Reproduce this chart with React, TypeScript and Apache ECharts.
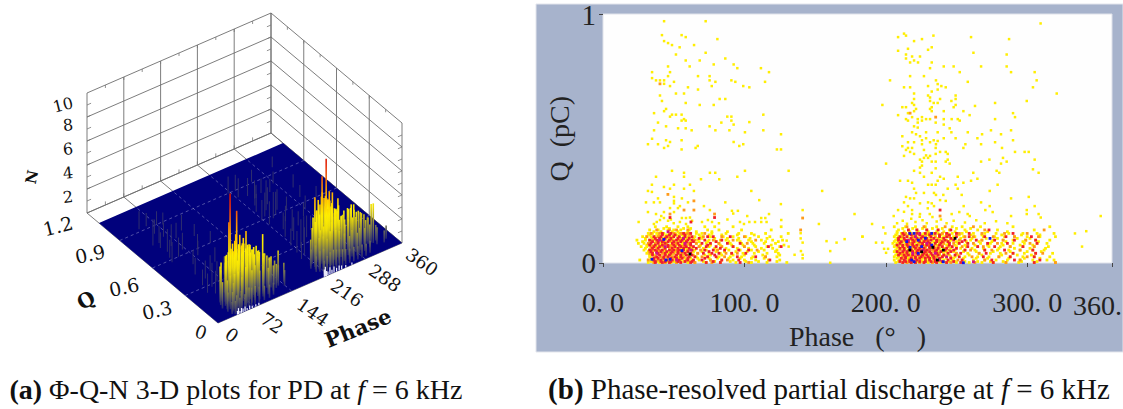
import React, { useEffect, useRef } from "react";
import * as echarts from "echarts";

// ---------- left panel: axis ticks ----------
const phaseTicks3D = [0, 72, 144, 216, 288, 360];
const qTicks3D = [0, 0.3, 0.6, 0.9, 1.2];
const nTicks3D = [0, 2, 4, 6, 8, 10];
const floorQMax = 1.09;

// ---------- left panel: spikes [phase, Q, N] ----------
const spikesFirstHump: number[][] = [
  [28,.09,2.2],[30,.05,1.6],[31,.12,2.9],[33,.07,2.4],[34,.14,3.0],[35,.03,1.7],[36,.1,3.6],[37,.06,2.8],[38,.15,3.2],[39,.04,2.3],
  [40,.11,4.1],[41,.08,3.4],[42,.13,3.8],[43,.05,2.9],[44,.09,4.4],[45,.1,9.2],[46,.07,4.6],[47,.12,6.6],[48,.04,3.1],[49,.1,4.5],
  [50,.14,3.9],[51,.06,3.8],[52,.09,5.2],[53,.03,2.6],[54,.12,4.7],[55,.07,4.3],[56,.1,5.6],[57,.15,4.0],[58,.05,3.6],[59,.09,4.4],
  [60,.11,7.4],[61,.07,4.8],[62,.13,4.6],[63,.04,3.2],[64,.1,5.4],[66,.08,4.5],[67,.12,4.1],[68,.05,3.3],[69,.1,4.6],[70,.14,4.2],
  [72,.07,4.2],[73,.11,4.9],[74,.09,5.6],[75,.04,2.7],[76,.12,4.3],[78,.07,3.9],[79,.1,4.3],[80,.09,4.4],[82,.13,3.7],[83,.05,2.9],
  [84,.1,4.2],[86,.07,3.6],[87,.12,3.8],[89,.09,4.0],[90,.04,2.4],[91,.11,3.6],[93,.07,3.3],[94,.13,3.4],[96,.1,3.9],[98,.08,3.5],
  [99,.05,2.5],[101,.11,3.3],[103,.07,3.0],[105,.12,3.2],[107,.09,3.1],[109,.05,2.2],[111,.1,3.0],[113,.12,4.4],[115,.07,2.8],[117,.1,2.7],
  [119,.13,2.6],[121,.06,2.1],[123,.09,2.6],[126,.11,2.3],[129,.07,2.0],[132,.1,2.0],[135,.08,1.7],[139,.1,2.7],[143,.06,1.3],[148,.09,1.6],
  [32,.02,1.0],[36,.01,1.1],[41,.02,1.4],[45,.01,1.2],[50,.02,1.6],[55,.01,1.3],[60,.02,1.7],[65,.02,1.6],[70,.02,1.5],[77,.02,1.5],[85,.02,1.3],[95,.02,1.2],[105,.02,1.1],[115,.03,1.0],
];
const spikesSecondHump: number[][] = [
  [203,.1,1.6],[205,.06,1.3],[207,.12,2.2],[208,.08,2.0],[210,.05,1.7],[211,.1,5.8],[212,.13,3.0],[213,.07,2.6],[214,.1,4.6],[215,.04,1.9],
  [216,.12,3.5],[217,.08,3.1],[218,.15,3.6],[219,.06,2.7],[220,.1,4.2],[221,.13,4.3],[222,.07,3.4],[223,.11,4.9],[224,.05,2.5],[225,.1,7.3],
  [226,.14,5.0],[227,.07,3.9],[228,.12,5.4],[229,.09,4.8],[230,.05,3.0],[231,.11,5.3],[232,.08,4.6],[233,.1,8.6],[234,.14,5.5],[235,.06,3.6],
  [236,.11,5.2],[237,.09,5.9],[238,.13,5.2],[239,.07,4.2],[240,.1,5.0],[241,.05,2.9],[242,.12,4.9],[243,.09,5.7],[244,.14,4.7],[245,.07,3.8],
  [246,.11,4.6],[247,.09,4.3],[248,.05,2.7],[249,.12,4.2],[250,.09,4.2],[251,.14,4.0],[252,.07,3.4],[254,.11,3.9],[255,.09,4.4],[256,.1,4.9],
  [258,.05,2.3],[259,.12,3.6],[260,.09,3.4],[262,.13,3.4],[263,.07,2.8],[265,.11,3.2],[267,.09,3.0],[268,.05,1.9],[270,.12,3.1],[272,.08,3.0],
  [274,.13,3.3],[275,.06,2.2],[277,.1,3.6],[279,.12,3.5],[280,.08,3.0],[282,.1,3.9],[283,.05,1.9],[285,.12,3.4],[287,.08,2.9],[289,.11,3.7],
  [290,.06,2.1],[292,.1,3.1],[294,.13,3.0],[296,.08,2.6],[298,.11,3.0],[300,.06,1.9],[302,.1,2.8],[304,.12,2.7],[306,.08,2.3],[309,.11,2.5],
  [312,.07,1.9],[315,.1,2.2],[318,.12,2.0],[321,.1,3.2],[323,.09,3.3],[326,.07,1.4],[330,.1,1.3],[338,.06,1.0],[346,.08,1.1],
  [212,.02,1.1],[218,.02,1.4],[224,.02,1.6],[230,.02,1.7],[236,.02,1.6],[242,.02,1.5],[248,.02,1.4],[254,.02,1.3],[262,.02,1.2],[270,.02,1.2],[278,.02,1.1],[286,.02,1.1],[294,.02,1.0],[304,.03,1.0],
];
const spikesBackground: number[][] = [
  [33,.25,1.6],[38,.32,1.3],[42,.22,1.9],[45,.42,1.4],[48,.28,2.0],[52,.36,1.5],[55,.2,2.2],[58,.5,1.2],[62,.3,1.7],[66,.23,2.4],
  [70,.4,1.3],[74,.26,1.8],[78,.55,1.2],[82,.33,1.5],[86,.2,2.1],[90,.45,1.2],[95,.29,1.4],[102,.22,1.9],[108,.37,1.1],[115,.2,1.7],
  [34,.58,1.7],[38,.62,1.5],[41,.72,1.3],[44,.67,1.9],[47,.76,1.4],[51,.6,1.6],[55,.84,1.2],[58,.7,1.8],[62,.79,1.2],[67,.64,1.4],
  [72,.9,1.1],[76,.74,1.3],[80,.88,1.0],[88,.6,1.2],[95,.78,1.3],[103,.7,1.0],[113,.6,1.0],[42,.92,1.5],[56,.92,1.1],[35,.76,2.2],
  [206,.2,1.4],[210,.26,1.8],[213,.33,1.4],[216,.22,2.3],[219,.41,1.7],[222,.28,2.4],[225,.36,1.9],[228,.47,1.4],[231,.21,2.6],[234,.31,2.2],
  [237,.43,1.8],[240,.25,2.4],[243,.52,1.3],[246,.34,1.8],[249,.22,2.2],[253,.45,1.2],[257,.29,1.6],[262,.38,1.2],[268,.22,1.5],[274,.5,1.1],
  [214,.6,1.7],[218,.55,1.9],[220,.68,1.5],[224,.62,2.0],[228,.73,1.6],[232,.58,2.2],[235,.66,2.5],[238,.78,1.5],[241,.6,1.9],[246,.7,1.4],
  [250,.63,1.7],[255,.8,1.2],[262,.6,1.1],[268,.78,1.1],[212,.9,1.4],[219,.84,1.6],[226,.9,1.3],[233,.82,1.5],[241,.78,1.1],[260,.91,1.0],
  [285,.83,1.0],[288,.55,1.1],[299,.65,1.0],[305,.74,1.1],[309,.95,.9],[290,.3,1.2],[300,.22,1.6],[306,.35,1.0],[312,.24,1.2],[320,.6,.9],
];
const whiteFrontNotches: number[][] = [
  [38,0,.3],[40,0,.5],[43,0,.2],[46,0,.4],[49,0,.3],[53,0,.4],[57,0,.2],[62,0,.3],[67,0,.2],[74,0,.2],[80,0,.2],
  [208,0,.6],[210,0,.8],[212,0,.4],[215,0,.3],[219,0,.6],[223,0,.3],[227,0,.5],[232,0,.3],[237,0,.4],[242,0,.3],[250,0,.2],[262,0,.2],
];

// ---------- right panel: scattered cells [phase, Q] ----------
const yellowUpper: number[][] = [
  [43.2,.973],[72.6,.973],[41.7,.917],[55.6,.917],[58.5,.909],[80.9,.901],[43.2,.893],[46,.885],[48.8,.877],[64.4,.877],[54.2,.868],[72.6,.846],[51.6,.839],[86.5,.823],[58.5,.815],[68.4,.815],[78.3,.799],[92.4,.799],[61.3,.791],[46,.791],[95,.784],[111.7,.784],[34.7,.768],[47.4,.768],[117.4,.768],[46,.752],[67.2,.752],[75.4,.752],[34.7,.744],[37.5,.735],[40.3,.735],[43.2,.735],[75.4,.735],[50.2,.729],[79.5,.729],[90.8,.735],[93.6,.729],[114.6,.729],[43.2,.721],[47.4,.712],[76.9,.712],[99.2,.712],[103.5,.707],[60.1,.707],[67.2,.698],[51.6,.682],[57.3,.682],[40.3,.674],[82.5,.66],[86.5,.66],[41.7,.652],[58.5,.644],[68.4,.636],[78.3,.636],[44.6,.62],[43.2,.611],[36.1,.603],[48.8,.597],[51.6,.597],[55.6,.597],[47.4,.589],[113.4,.597],[87.9,.589],[90.8,.589],[57.3,.579],[55.6,.573],[58.5,.573],[90.8,.573],[103.5,.567],[83.7,.565],[38.9,.565],[92.4,.557],[44.6,.55],[53.1,.542],[58.5,.542],[75.4,.55],[62.7,.534],[36.1,.534],[79.5,.534],[89.4,.534],[113.4,.534],[100.4,.526],[125.9,.518],[34.7,.5],[44.6,.494],[55.6,.494],[47.4,.487],[31.8,.478],[38.9,.478],[92.4,.487],[99.2,.478],[96.4,.471],[43.2,.463],[46,.471],[67,.471],[65.5,.463],[55.6,.457],[123,.457],[125.9,.457],
  [309.5,.964],[212.9,.923],[214.3,.915],[208.7,.909],[233.7,.915],[260.3,.909],[225.6,.901],[287.2,.901],[220,.893],[208.7,.854],[215.7,.862],[229.9,.858],[232.5,.868],[262,.846],[285.5,.839],[214.3,.839],[218.6,.831],[224.2,.831],[214.3,.823],[220,.815],[217.2,.807],[222.8,.807],[232.5,.807],[241,.791],[248,.791],[267.4,.791],[285.5,.791],[231.3,.784],[252.3,.768],[288.6,.768],[305.3,.768],[217.2,.752],[227,.752],[203,.735],[235.5,.735],[258,.729],[306.7,.735],[236.7,.72],[212.9,.707],[217.2,.707],[229.9,.712],[239.3,.712],[242.4,.707],[304.1,.707],[236.7,.698],[220,.682],[232.5,.69],[320.9,.682],[229.9,.674],[249.4,.674],[231.3,.666],[220,.66],[238.4,.66],[249.4,.66],[246.4,.652],[299.7,.652],[231.3,.652],[218.6,.644],[233.9,.644],[236.7,.644],[277.3,.644],[197.6,.636],[220,.636],[249.4,.636],[263.1,.632],[211.7,.627],[214.3,.627],[248,.627],[232.5,.627],[221.4,.62],[231.3,.62],[220,.611],[232.5,.611],[241,.611],[254.9,.611],[215.7,.603],[208.7,.595],[259.3,.595],[290,.603],[291.4,.587],[218.6,.587],[225.6,.587],[214.3,.579],[222.6,.579],[228.5,.579],[231.3,.579],[241,.579],[246.6,.579],[250.9,.579],[277.3,.579],[252.3,.573],[215.7,.573],[225.6,.573],[222.6,.565],[235.3,.565],[241,.557],[220,.55],[222.6,.545],[245.2,.542],[274.4,.534],[288.6,.534],[218.6,.526],[228.5,.526],[236.7,.526],[246.4,.526],[258,.526],[221.4,.518],[268.1,.518],[281.5,.518],[211.7,.51],[224.2,.51],[228.5,.502],[241,.502],[249.4,.502],[264.8,.502],[225.6,.494],[233.9,.494],[236.7,.491],[290,.494],[215.7,.486],[220,.486],[231.3,.486],[277.3,.486],[225.6,.478],[235.5,.478],[256.3,.478],[267.4,.478],[211.7,.47],[215.7,.463],[218.6,.463],[235.3,.463],[254.9,.463],[282.2,.463],[214.3,.455],[227,.455],[217.2,.447],[220,.439],[238.4,.447],[242.4,.447],[243.8,.439],[235.3,.439],[291.4,.447],[298.2,.447],[301.1,.447],[212.9,.431],[228.5,.433],[231.3,.431],[227,.423],[229.9,.423],[282.9,.423],[224.2,.416],[243.8,.416],[273.3,.416],[305.3,.416],[225.6,.408],[232.5,.408],[235.3,.408],[242.4,.408],[267.4,.408],[285.5,.408],[200.2,.4],[245.2,.4],[281.5,.4],[225.6,.392],[224.2,.384],[235.3,.381],[304.1,.377],
];
const yellowMiddle: number[][] = [
  [37.5,.347],[48.8,.371],[57.3,.363],[57.3,.347],[69.3,.337],[75.6,.363],[79.4,.363],[82.2,.337],[95,.347],[100.4,.371],[131.3,.371],[34.6,.315],[61.5,.315],[43.1,.306],[47.4,.299],[50.2,.315],[57.3,.299],[31.8,.29],[34.6,.286],[64.3,.29],[104.9,.29],[155,.29],[50.2,.266],[38.9,.26],[55.8,.26],[50.2,.25],[30.4,.244],[36,.244],[40.3,.244],[50.2,.24],[60.1,.244],[86.5,.244],[110.5,.253],[125.8,.237],[71.4,.229],[54.4,.229],[47.4,.221],[53,.221],[75.6,.213],[91.2,.21],[95.4,.21],[141.2,.213],[31.8,.205],[37.5,.197],[43.1,.205],[50.2,.205],[117.4,.197],[177.9,.197],[92.1,.199],[102,.189],[41.2,.189],[55.8,.181],[58.7,.181],[61.5,.183],[111.9,.181],[114.8,.181],[25.2,.165],[36,.157],[40.3,.173],[43.1,.181],[54.4,.165],[58.7,.157],[70,.165],[74.2,.173],[77.1,.165],[96.9,.165],[99.7,.157],[103.5,.165],[107.5,.165],[111.9,.165],[115.7,.165],[126.1,.173],[152.7,.157],
  [158.1,.088],[165.2,.082],[170.9,.096],[183.6,.106],[160.7,.048],[160.7,.001],[135.5,.033],[141.2,.033],[139.8,.12],[139.8,.099],[141.2,.082],[140,.048],[141.2,.019],[129.9,.09],[131.3,.066],[183.4,.106],[193.1,.082],[197.6,.082],[198.8,.057],[201.6,.057],[200.2,.041],[198.3,.143],[199.7,.119],[190.3,.157],[333.8,.119],[341.8,.128],[338.8,.066],
  [220,.371],[224.2,.363],[232.5,.363],[227,.347],[238.4,.347],[250.9,.347],[261.9,.363],[264.8,.339],[278.4,.371],[280.3,.363],[308.1,.363],[210.1,.331],[215.7,.331],[218.6,.323],[229.9,.315],[232.5,.315],[236.7,.331],[235.3,.315],[241,.339],[254.9,.323],[260.3,.331],[249.4,.315],[279.1,.315],[220,.299],[243.8,.299],[250.9,.299],[273.5,.29],[221.4,.282],[227,.282],[234.1,.282],[235.5,.274],[253.7,.274],[214.3,.266],[240.7,.274],[220,.26],[217.2,.26],[301.1,.266],[288.6,.26],[212.9,.244],[238.4,.253],[224.2,.24],[229.9,.244],[232.5,.24],[242.4,.25],[215.7,.229],[234.1,.229],[255.1,.229],[267.4,.244],[273.5,.229],[305.3,.229],[208.7,.213],[218.6,.213],[229.7,.22],[270.4,.213],[299.7,.213],[212.9,.206],[275.6,.205],[205.6,.189],[218.6,.197],[224.2,.197],[231.1,.197],[246.6,.197],[252,.205],[257.9,.197],[259.4,.189],[288.6,.189],[299.7,.197],[308.1,.197],[352,.189],[309.6,.183],
  [46,.17],[50,.16],[38,.165],[63,.17],[48,.175],[82,.16],[88,.175],[212,.17],[218,.178],[221,.165],[226,.172],[229,.16],[233,.185],[236,.167],[239,.175],[243,.16],[248,.17],[256,.163],[264,.172],[270,.16],[278,.168],[286,.16],[208,.16],[215,.158],[224,.186],
];
// dense rows: [Q, phases]
const yellowDenseRows: [number, number[]][] = [
  [.146,[37,45,53,60,72,79,92,126, 206,214,221,228,236,247,254,267,290,316]],
  [.139,[43,47,57,62, 212,219,226,233,240,250,260]],
  [.133,[33,39,46,50,55,61,74,82,98,119, 209,216,222,229,237,245,256,265,279,305]],
  [.126,[36,41,49,53,60,66,77,88, 208,213,217,223,230,236,241,249,257,272,286]],
  [.119,[32,35,38,43,47,51,54,56,59,62,66,70,77,87,96,105,115,131, 208,211,214,218,221,224,227,230,234,237,240,244,247,250,254,262,270,278,287,297,307,319]],
  [.113,[33,39,45,52,56,61,68,75,84,95,107, 207,212,216,220,226,229,233,239,243,252,260,268,282,296,309]],
  [.106,[28,31,34,37,40,44,48,50,53,57,60,65,69,76,85,92,101,110,118,126, 206,209,212,215,219,222,225,228,231,235,238,241,245,248,255,263,269,277,284,291,300,309,320]],
  [.099,[30,35,42,46,49,55,59,64,70,79,88,96,104,116, 208,211,217,220,223,227,232,237,240,247,253,261,271,279,293,302]],
  [.092,[24,30,33,36,40,43,47,51,55,58,63,67,75,83,87,95,103,112,120,127, 207,210,213,216,218,221,224,227,230,233,236,239,243,246,252,260,268,276,283,290,299,306,316]],
  [.086,[28,34,38,44,48,53,57,62,68,74,80,89,97,105,115,124, 206,209,212,215,219,222,226,229,234,238,241,245,250,257,266,275,285,297,308]],
  [.079,[25,29,33,37,41,45,49,52,56,60,66,73,82,90,98,106,114,122, 205,208,211,214,217,220,223,226,229,232,235,238,241,244,251,258,267,274,282,290,298,307,314]],
  [.072,[31,36,40,44,48,52,56,61,69,76,83,91,99,107,119,128, 207,210,213,217,221,224,227,230,233,236,243,249,256,263,272,283,295,304]],
  [.066,[27,31,35,38,42,46,50,54,58,62,68,75,84,92,100,108,116,125, 206,209,212,215,219,222,225,228,231,234,237,240,244,250,257,265,273,281,288,297,305,315]],
  [.059,[30,34,38,43,47,51,55,59,63,71,79,87,95,103,112,120, 208,211,214,219,222,225,228,232,235,238,241,246,253,261,269,280,291,302,313]],
  [.052,[29,33,36,40,44,48,52,56,60,65,73,81,89,97,105,114,123, 207,210,213,216,218,221,224,227,230,233,236,239,242,249,256,263,270,279,287,295,304,312]],
  [.046,[32,35,39,43,47,51,55,59,64,70,80,86,94,102,110,122, 206,209,213,217,220,223,226,229,234,237,240,243,248,255,264,276,288,300,310]],
  [.039,[31,34,38,42,46,50,54,58,62,67,75,83,91,99,107,116,124, 208,211,214,217,220,223,226,229,232,235,238,241,244,250,258,266,274,281,290,298,306,318]],
  [.032,[33,36,40,44,48,52,56,60,64,72,76,84,92,100,113,125, 207,211,214,217,220,225,228,231,235,238,242,245,251,259,268,282,293,303]],
  [.025,[33,37,41,45,49,53,57,61,66,74,82,90,98,106,115,123, 206,209,212,215,218,221,224,227,230,233,236,240,243,249,256,265,273,280,288,297,305,316]],
  [.019,[34,38,42,46,50,54,58,62,67,75,81,89,97,105,114, 208,212,216,219,223,226,229,232,235,239,243,248,255,264,272,287,298,309]],
  [.012,[26,32,35,39,43,47,51,55,59,63,68,76,84,92,100,108,117,125, 206,210,213,216,219,222,225,228,231,234,238,241,247,254,262,270,278,286,295,304,314,319]],
  [.006,[34,38,42,46,50,54,57,61,71,79,90,101,110,123, 209,213,216,220,223,226,229,234,238,241,245,249,256,265,274,283,296,307]],
  [.002,[32,36,40,44,48,52,60,65,73,83,94,105,116,130, 207,212,215,218,221,224,227,230,233,236,239,243,250,259,268,276,285,294,305,320]],
];
const orangeCells: number[][] = [
  [40.3,.721],[217.2,.603],[235.3,.587],[45.9,.276],[64.3,.25],[57.3,.213],[64.3,.213],[47.4,.197],[78.9,.197],[141.2,.181],[139.8,.133],[238.4,.189],
  [38,.133],[47,.133],[52,.133],[60,.133],[215,.146],[227,.146],[242,.146],[262,.146],[270,.133],[312,.133],
  [34,.119],[40,.119],[50,.119],[55,.119],[60,.119],[72,.119],[214,.119],[224,.119],[231,.119],[240,.119],[252,.119],[268,.119],[284,.119],[300,.119],
  [31,.106],[39,.106],[47,.106],[61,.106],[71,.106],[84,.106],[100,.106],[212,.106],[219,.106],[228,.106],[235,.106],[245,.106],[256,.106],[262,.106],[276,.106],[291,.106],[308,.106],
  [35,.092],[41,.092],[49,.092],[54,.092],[65,.092],[78,.092],[92,.092],[108,.092],[213,.092],[221,.092],[230,.092],[238,.092],[252,.092],[268,.092],[283,.092],[299,.092],
  [32,.079],[37,.079],[42,.079],[51,.079],[60,.079],[66,.079],[82,.079],[102,.079],[217,.079],[224,.079],[229,.079],[241,.079],[248,.079],[262,.079],[279,.079],[302,.079],
  [34,.066],[43,.066],[48,.066],[57,.066],[68,.066],[84,.066],[100,.066],[209,.066],[222,.066],[228,.066],[237,.066],[244,.066],[254,.066],[269,.066],[288,.066],[305,.066],
  [35,.052],[40,.052],[52,.052],[60,.052],[69,.052],[81,.052],[109,.052],[210,.052],[216,.052],[227,.052],[233,.052],[245,.052],[260,.052],[275,.052],[295,.052],
  [33,.039],[42,.039],[50,.039],[56,.039],[67,.039],[87,.039],[95,.039],[212,.039],[220,.039],[229,.039],[238,.039],[250,.039],[266,.039],[285,.039],[311,.039],
  [37,.025],[41,.025],[49,.025],[57,.025],[70,.025],[86,.025],[115,.025],[212,.025],[218,.025],[227,.025],[236,.025],[246,.025],[261,.025],[280,.025],[300,.025],
  [32,.012],[39,.012],[47,.012],[59,.012],[76,.012],[88,.012],[210,.012],[219,.012],[228,.012],[238,.012],[251,.012],[270,.012],[295,.012],
  [36,.002],[44,.002],[52,.002],[65,.002],[77,.002],[103,.002],[215,.002],[224,.002],[233,.002],[246,.002],[263,.002],[285,.002],[320,.002],
];
const redCells: number[][] = [
  [47.4,.183],[78.9,.183],[62.2,.165],[238.4,.213],[42,.119],[48,.119],[57,.119],[62,.119],
  [36,.106],[41,.106],[45,.106],[50,.106],[54,.106],[58,.106],[63,.106],[74,.106],[78,.106],[90,.106],
  [33,.092],[38,.092],[43,.092],[47,.092],[52,.092],[56,.092],[60,.092],[63,.092],[72,.092],[84,.092],
  [34,.079],[39,.079],[44,.079],[49,.079],[53,.079],[58,.079],[62,.079],[70,.079],[76,.079],[88,.079],[97,.079],
  [36,.066],[40,.066],[46,.066],[51,.066],[55,.066],[59,.066],[64,.066],[73,.066],[80,.066],[92,.066],[117,.066],[126,.066],
  [33,.052],[37,.052],[42,.052],[47,.052],[50,.052],[54,.052],[57,.052],[63,.052],[72,.052],[78,.052],[86,.052],[96,.052],[103,.052],
  [35,.039],[39,.039],[44,.039],[48,.039],[53,.039],[58,.039],[62,.039],[71,.039],[77,.039],[82,.039],[91,.039],[101,.039],
  [38,.025],[43,.025],[46,.025],[51,.025],[55,.025],[61,.025],[65,.025],[74,.025],[80,.025],[95,.025],[108,.025],
  [36,.012],[41,.012],[45,.012],[49,.012],[54,.012],[60,.012],[64,.012],[70,.012],[84,.012],[96,.012],[118,.012],
  [37,.002],[42,.002],[47,.002],[55,.002],[62,.002],[73,.002],[83,.002],[97,.002],
  [216,.133],[222,.133],[229,.133],[237,.133],[246,.133],[273,.133],
  [212,.119],[217,.119],[222,.119],[228,.119],[235,.119],[243,.119],[250,.119],[259,.119],[290,.119],
  [210,.106],[215,.106],[221,.106],[226,.106],[232,.106],[238,.106],[243,.106],[250,.106],[259,.106],[270,.106],[285,.106],[303,.106],
  [209,.092],[214,.092],[219,.092],[223,.092],[228,.092],[232,.092],[236,.092],[242,.092],[248,.092],[256,.092],[264,.092],[277,.092],[291,.092],[306,.092],
  [210,.079],[215,.079],[219,.079],[226,.079],[231,.079],[235,.079],[239,.079],[245,.079],[252,.079],[258,.079],[272,.079],[286,.079],[307,.079],
  [212,.066],[216,.066],[220,.066],[225,.066],[231,.066],[234,.066],[240,.066],[247,.066],[258,.066],[265,.066],[277,.066],[297,.066],
  [213,.052],[218,.052],[223,.052],[229,.052],[236,.052],[242,.052],[248,.052],[256,.052],[270,.052],[284,.052],[304,.052],
  [210,.039],[215,.039],[222,.039],[227,.039],[232,.039],[236,.039],[244,.039],[253,.039],[271,.039],[290,.039],[306,.039],
  [214,.025],[221,.025],[225,.025],[230,.025],[234,.025],[240,.025],[252,.025],[269,.025],[288,.025],[305,.025],
  [213,.012],[217,.012],[222,.012],[231,.012],[235,.012],[244,.012],[254,.012],[275,.012],[291,.012],[309,.012],
  [212,.002],[218,.002],[221,.002],[227,.002],[236,.002],[243,.002],[253,.002],[276,.002],[305,.002],
];
// further red cells between the rows above, inside the two dense cores
const redCoreRows: [number, number[]][] = [
  [.113,[42,47,51,58, 213,218,224,231,238,245]],
  [.099,[37,40,44,48,53,57,61,68, 209,213,218,222,225,229,234,241,246]],
  [.086,[35,39,42,46,50,55,59,64,80, 211,216,220,224,227,230,236,240,244,254]],
  [.072,[33,37,42,46,50,54,58,62,74, 208,212,215,219,222,226,229,232,238,245]],
  [.059,[35,39,44,49,53,57,61,66,83, 210,213,217,221,224,227,231,234,237,243,250]],
  [.046,[34,38,41,45,49,53,56,60,75, 208,212,215,219,222,225,228,231,235,239,246]],
  [.032,[35,40,44,47,52,55,59,63,79, 209,213,216,219,223,226,229,233,237,241,249]],
  [.019,[36,39,43,48,52,56,60,72, 211,214,218,221,224,228,231,234,238,246]],
  [.006,[37,41,44,48,53,58,63,78, 210,214,217,220,224,228,232,235,240,248]],
];
const magentaCells: number[][] = [
  [46,.126],[56.8,.099],[44,.066],[58,.079],[38,.039],[52,.012],[62,.052],[40,.092],[221,.106],[229,.079],[216,.092],[235,.039],[226,.052],[243,.025],[219,.039],[224,.119],[238,.012],[262,.005],
];
const blueCells: number[][] = [
  [43,.095],[55.8,.05],[34.6,.015],[44.5,.012],[47.4,.015],[217,.119],[220,.119],[232.5,.119],[214.8,.086],[223,.092],[217.2,.063],[225.4,.066],[232.5,.072],[218.3,.012],[223,.039],[240.7,.005],[254.9,.001],[220,.005],[273.7,.099],[228,.1],
];
const blackCells: number[][] = [
  [61.5,.036],[217,.052],[233.2,.063],[240.7,.052],[236.5,.012],[249,.099],[225.4,.045],
];

// ---------- right panel: axis values ----------
const rightXMax = 360;
const rightXStep = 100;

// ---------- projection of the 3-D box ----------
const O = [218, 323];
const PX = [184, -80];
const QY = [-131, -110];
const NH = 12;
function project(p: number, q: number, n: number): [number, number] {
  const a = p / 360;
  const b = q / 1.2;
  return [O[0] + PX[0] * a + QY[0] * b, O[1] + PX[1] * a + QY[1] * b - n * NH];
}

// N -> colour
const colorMapStops: [number, number[]][] = [
  [0, [40, 40, 112]],
  [1, [104, 104, 90]],
  [2, [172, 162, 40]],
  [3, [238, 222, 8]],
  [4, [255, 238, 0]],
  [6, [255, 160, 0]],
  [8, [232, 48, 16]],
  [10, [190, 0, 0]],
];
function colorAt(n: number): string {
  const s = colorMapStops;
  for (let i = 1; i < s.length; i++) {
    if (n <= s[i][0]) {
      const t = (n - s[i - 1][0]) / (s[i][0] - s[i - 1][0]);
      const c = s[i - 1][1].map((v, k) => Math.round(v + (s[i][1][k] - v) * t));
      return `rgb(${c[0]},${c[1]},${c[2]})`;
    }
  }
  return "rgb(190,0,0)";
}
function spikeFill(n: number) {
  const stops: { offset: number; color: string }[] = [{ offset: 0, color: colorAt(n) }];
  colorMapStops.forEach(([v]) => {
    if (v < n) stops.push({ offset: 1 - v / n, color: colorAt(v) });
  });
  stops.sort((a, b) => a.offset - b.offset);
  return new echarts.graphic.LinearGradient(0, 0, 0, 1, stops);
}

type Seg = number[];
function frameSegments(): { walls: Seg[]; ticks: Seg[]; dashes: Seg[] } {
  const walls: Seg[] = [];
  const ticks: Seg[] = [];
  const dashes: Seg[] = [];
  const top = 10;
  nTicks3D.forEach((n) => {
    walls.push([0, 1.2, n, 360, 1.2, n]);
    walls.push([360, 1.2, n, 360, 0, n]);
  });
  phaseTicks3D.forEach((p) => {
    walls.push([p, 1.2, 0, p, 1.2, top]);
    walls.push([p, 0, 0, p, 1.2, 0]);
  });
  qTicks3D.forEach((q) => {
    walls.push([360, q, 0, 360, q, top]);
    walls.push([0, q, 0, 360, q, 0]);
  });
  [36, 72, 108, 144, 180, 216, 252, 288, 324].forEach((p) => {
    ticks.push([p, 1.2, 10, p, 1.2, 9.75]);
    ticks.push([p, 1.2, 0, p, 1.2, 0.3]);
  });
  [0.15, 0.3, 0.45, 0.6, 0.75, 0.9, 1.05].forEach((q) => {
    ticks.push([360, q, 10, 360, q, 9.75]);
  });
  [1, 2, 3, 4, 5, 6, 7, 8, 9].forEach((n) => {
    ticks.push([0, 1.2, n, 8, 1.2, n]);
    ticks.push([360, 1.2, n, 352, 1.2, n]);
    ticks.push([360, 0, n, 352, 0, n]);
  });
  [72, 144, 216, 288].forEach((p) => dashes.push([p, 0, 0, p, floorQMax, 0]));
  [0.3, 0.6, 0.9].forEach((q) => dashes.push([0, q, 0, 360, q, 0]));
  return { walls, ticks, dashes };
}

function rowsToCells(rows: [number, number[]][]): number[][] {
  const out: number[][] = [];
  rows.forEach(([q, ps]) => ps.forEach((p) => out.push([p, q])));
  return out;
}

function lineItem(style: any) {
  return (_: any, api: any) => {
    const a = project(api.value(0), api.value(1), api.value(2));
    const b = project(api.value(3), api.value(4), api.value(5));
    return {
      type: "line",
      shape: { x1: a[0], y1: a[1], x2: b[0], y2: b[1] },
      style,
      silent: true,
    };
  };
}

const CAPTION_FONT = '"Liberation Serif", serif';
const AXIS_FONT = '"Liberation Serif", serif';
const LABEL3D = '"DejaVu Serif", serif';

function txt(text: string, x: number, y: number, fontSize: number, rotationDeg: number, bold = false) {
  return {
    type: "text",
    x,
    y,
    rotation: (rotationDeg * Math.PI) / 180,
    style: {
      text,
      fontFamily: LABEL3D,
      fontSize,
      fontWeight: bold ? "bold" : "normal",
      fill: "#111",
      align: "center",
      verticalAlign: "middle",
    },
  };
}

function caption(text: string, x: number, fontSize: number) {
  const face = { fontFamily: CAPTION_FONT, fontSize, fill: "#111" };
  return {
    type: "text",
    x,
    y: 389,
    z: 5,
    style: {
      text,
      ...face,
      align: "center",
      verticalAlign: "middle",
      rich: {
        b: { ...face, fontWeight: "bold" },
        i: { ...face, fontStyle: "italic" },
      },
    },
  };
}

export default function App() {
  const ref = useRef<HTMLDivElement>(null);
  useEffect(() => {
    if (!ref.current) return;
    const chart = echarts.init(ref.current, undefined, { renderer: "svg" });
    const { walls, ticks, dashes } = frameSegments();
    const humpSpikes = [...spikesFirstHump, ...spikesSecondHump].sort(
      (a, b) => project(a[0], a[1], 0)[1] - project(b[0], b[1], 0)[1]
    );
    const scatter = (name: string, data: number[][], color: string, size: number, z: number) => ({
      type: "scatter",
      name,
      data,
      symbol: "rect",
      symbolSize: size,
      itemStyle: { color, opacity: 1 },
      silent: true,
      z,
    });

    chart.setOption({
      animation: false,
      backgroundColor: "#ffffff",
      graphic: {
        elements: [
          { type: "rect", z: -20, shape: { x: 536, y: 4, width: 587, height: 348 }, style: { fill: "#a7b3cc", stroke: "#e3e5ec", lineWidth: 1 } },
          { type: "rect", z: -19, shape: { x: 603, y: 14, width: 509, height: 249 }, style: { fill: "#fefefe", stroke: "#dfe2ea", lineWidth: 1 } },
          {
            type: "text", x: 1122, y: 305, z: 5,
            style: { text: "360.", fontFamily: AXIS_FONT, fontSize: 28, fill: "#222", align: "right", verticalAlign: "middle" },
          },
          txt("10", 63, 105, 16, 14),
          txt("8", 68, 125, 16, 6),
          txt("6", 68, 149, 16, 6),
          txt("4", 68, 173, 16, 6),
          txt("2", 68, 197, 16, 6),
          txt("N", 32, 177, 15, 78, true),
          txt("1.2", 58, 226, 19, 14),
          txt("0.9", 90, 254, 19, 12),
          txt("0.6", 124, 287, 19, 12),
          txt("0.3", 157, 310, 19, 12),
          txt("0", 201, 332, 18, -18),
          txt("Q", 86, 300, 20, 30, true),
          txt("0", 232, 335, 18, -35),
          txt("72", 272, 323, 18, -35),
          txt("144", 313, 312, 18, -35),
          txt("216", 347, 293, 18, -35),
          txt("288", 385, 278, 18, -35),
          txt("360", 422, 262, 18, -35),
          txt("Phase", 358, 328, 21, 22, true),
          caption("{b|(a)} \u03A6-Q-N 3-D plots for PD at {i|f} = 6 kHz", 236, 28),
          caption("{b|(b)} Phase-resolved partial discharge at {i|f} = 6 kHz", 829, 29),
        ],
      },
      grid: { left: 603, top: 14, width: 509, height: 249, show: false },
      xAxis: {
        type: "value",
        min: 0,
        max: rightXMax,
        interval: rightXStep,
        offset: 20,
        splitLine: { show: false },
        axisLine: { show: false },
        axisTick: { show: true, length: 4, inside: false, lineStyle: { color: "#444", width: 1 } },
        axisLabel: {
          show: true,
          margin: 5,
          showMaxLabel: true,
          fontFamily: AXIS_FONT,
          fontSize: 28,
          color: "#222",
          formatter: (v: number) => (v === rightXMax ? "" : `${v}. 0`),
        },
        name: "Phase\u00A0\u00A0\u00A0(\u00B0\u00A0\u00A0\u00A0)",
        nameLocation: "middle",
        nameGap: 39,
        nameTextStyle: { fontFamily: AXIS_FONT, fontSize: 28, color: "#222" },
      },
      yAxis: {
        type: "value",
        min: 0,
        max: 1,
        interval: 1,
        splitLine: { show: false },
        axisLine: { show: false },
        axisTick: { show: true, length: 4, lineStyle: { color: "#444", width: 1 } },
        axisLabel: { margin: 7, fontFamily: AXIS_FONT, fontSize: 29, color: "#222" },
        name: "Q\u00A0\u00A0(pC)",
        nameLocation: "middle",
        nameRotate: 90,
        nameGap: 30,
        nameTextStyle: { fontFamily: AXIS_FONT, fontSize: 28, color: "#222" },
      },
      series: [
        {
          type: "custom", coordinateSystem: "none", silent: true, z: 1,
          renderItem: lineItem({ stroke: "#6e6e6e", lineWidth: 0.9, fill: "none" }),
          data: walls,
        },
        {
          type: "custom", coordinateSystem: "none", silent: true, z: 1,
          renderItem: lineItem({ stroke: "#777777", lineWidth: 0.8, fill: "none" }),
          data: ticks,
        },
        {
          type: "custom", coordinateSystem: "none", silent: true, z: 2,
          renderItem: (_: any, api: any) => ({
            type: "polygon",
            shape: {
              points: [
                project(api.value(0), 0, 0),
                project(api.value(1), 0, 0),
                project(api.value(1), api.value(2), 0),
                project(api.value(0), api.value(2), 0),
              ],
            },
            style: { fill: "#01017c" },
          }),
          data: [[0, 360, floorQMax]],
        },
        {
          type: "custom", coordinateSystem: "none", silent: true, z: 2,
          renderItem: lineItem({ stroke: "rgba(225,225,240,0.5)", lineWidth: 0.7, lineDash: [3, 3], fill: "none" }),
          data: dashes,
        },
        {
          type: "custom", coordinateSystem: "none", silent: true, z: 2,
          renderItem: (_: any, api: any) => {
            const b = project(api.value(0), api.value(1), 0);
            const t = project(api.value(0), api.value(1), api.value(2));
            return {
              type: "rect",
              shape: { x: b[0] - 0.5, y: t[1], width: 1, height: b[1] - t[1] },
              style: { fill: "#30306e" },
            };
          },
          data: spikesBackground,
        },
        {
          type: "custom", coordinateSystem: "none", silent: true, z: 2,
          renderItem: (_: any, api: any) => {
            const n = api.value(2);
            const b = project(api.value(0), api.value(1), 0);
            const t = project(api.value(0), api.value(1), n);
            return {
              type: "rect",
              shape: { x: b[0] - 0.8, y: t[1], width: 1.6, height: b[1] - t[1] },
              style: { fill: spikeFill(n) },
            };
          },
          data: humpSpikes,
        },
        {
          type: "custom", coordinateSystem: "none", silent: true, z: 2,
          renderItem: (_: any, api: any) => {
            const b = project(api.value(0), api.value(1), 0);
            const t = project(api.value(0), api.value(1), api.value(2));
            return { type: "rect", shape: { x: b[0] - 0.6, y: t[1], width: 1.2, height: b[1] - t[1] }, style: { fill: "#f4f4ff" } };
          },
          data: whiteFrontNotches,
        },
        scatter("yellow sparse", [...yellowUpper, ...yellowMiddle], "#ffee00", 2.5, 3),
        scatter("yellow dense", rowsToCells(yellowDenseRows), "#ffee00", 2.8, 3),
        scatter("orange", orangeCells, "#ff9a1a", 2.8, 4),
        scatter("red", [...redCells, ...rowsToCells(redCoreRows)], "#f2202a", 2.8, 5),
        scatter("magenta", magentaCells, "#d0108a", 2.8, 6),
        scatter("blue", blueCells, "#1414e6", 2.8, 7),
        scatter("black", blackCells, "#000000", 2.8, 8),
      ],
    });
    return () => chart.dispose();
  }, []);
  return <div ref={ref} style={{ position: "fixed", left: 0, top: 0, width: 1123, height: 409 }} />;
}
